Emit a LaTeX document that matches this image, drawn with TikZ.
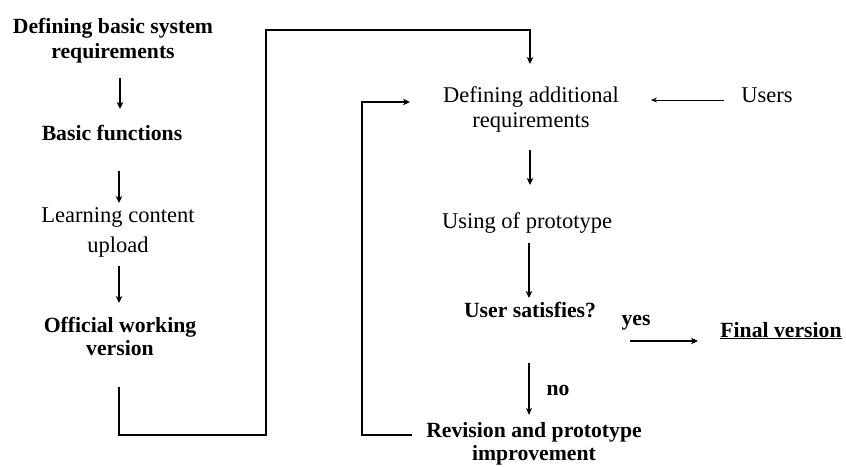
\documentclass[tikz,border=0pt]{standalone}
\usepackage{fontspec}
\setmainfont{Liberation Serif}
\usetikzlibrary{arrows.meta}
\begin{document}
\begin{tikzpicture}[x=1pt,y=-1pt,
  lbl/.style={inner sep=0pt,align=center,anchor=base,font=\fontsize{22.5}{30}\selectfont},
  blbl/.style={inner sep=0pt,align=center,anchor=base,font=\fontsize{21.7}{25}\selectfont\bfseries},
  thk/.style={line width=1.8pt},
  arr/.style={thk,-{Stealth[length=7pt,width=6.5pt,inset=2pt]}},
  thinarr/.style={line width=0.9pt,-{Stealth[length=6pt,width=5pt,inset=2pt]}}]
\useasboundingbox (0,0) rectangle (846,466);
\node[blbl] (n1) at (113,58) {Defining basic system\\requirements};
\node[blbl] (n2) at (112,140) {Basic functions};
\node[lbl] (n3) at (118,252) {Learning content\\upload};
\node[blbl,font=\fontsize{21.7}{23}\selectfont\bfseries] (n4) at (120,355) {Official working\\version};
\node[lbl,font=\fontsize{22.5}{25}\selectfont] (n5) at (531,127) {Defining additional\\requirements};
\node[lbl] (users) at (767,102) {Users};
\node[lbl] (n6) at (527,228) {Using of prototype};
\node[blbl] (n7) at (530,317) {User satisfies?};
\node[blbl] (yes) at (636,325) {yes};
\node[blbl] (fin) at (781,337) {\underline{Final version}};
\node[blbl] (no) at (558,395) {no};
\node[blbl,font=\fontsize{21.7}{23}\selectfont\bfseries] (n8) at (534,460) {Revision and prototype\\improvement};
% left column arrows
\coordinate (a1s) at (120,78); \coordinate (a1e) at (120,109);
\draw[arr] (a1s) -- (a1e);
\coordinate (a2s) at (119,171); \coordinate (a2e) at (119,203);
\draw[arr] (a2s) -- (a2e);
\coordinate (a3s) at (119,266); \coordinate (a3e) at (119,303);
\draw[arr] (a3s) -- (a3e);
% big loop to additional requirements
\coordinate (b0) at (119,387); \coordinate (b1) at (266,435);
\coordinate (b2) at (530,30); \coordinate (b3) at (530,64);
\draw[arr] (b0) |- (b1) |- (b2) -- (b3);
% feedback loop
\coordinate (f0) at (412,435); \coordinate (f1) at (362,102); \coordinate (f2) at (410,102);
\draw[arr] (f0) -| (f1) -- (f2);
% users
\coordinate (u0) at (724,100); \coordinate (u1) at (651,100);
\draw[thinarr] (u0) -- (u1);
% right column
\coordinate (r1s) at (530,150); \coordinate (r1e) at (530,185);
\draw[arr] (r1s) -- (r1e);
\coordinate (r2s) at (529,243); \coordinate (r2e) at (529,298);
\draw[arr] (r2s) -- (r2e);
\coordinate (y0) at (630,341); \coordinate (y1) at (698,341);
\draw[arr] (y0) -- (y1);
\coordinate (no0) at (529,363); \coordinate (no1) at (529,415);
\draw[line width=1.2pt,-{Stealth[length=7pt,width=6pt,inset=2pt]}] (no0) -- (no1);
\end{tikzpicture}
\end{document}
